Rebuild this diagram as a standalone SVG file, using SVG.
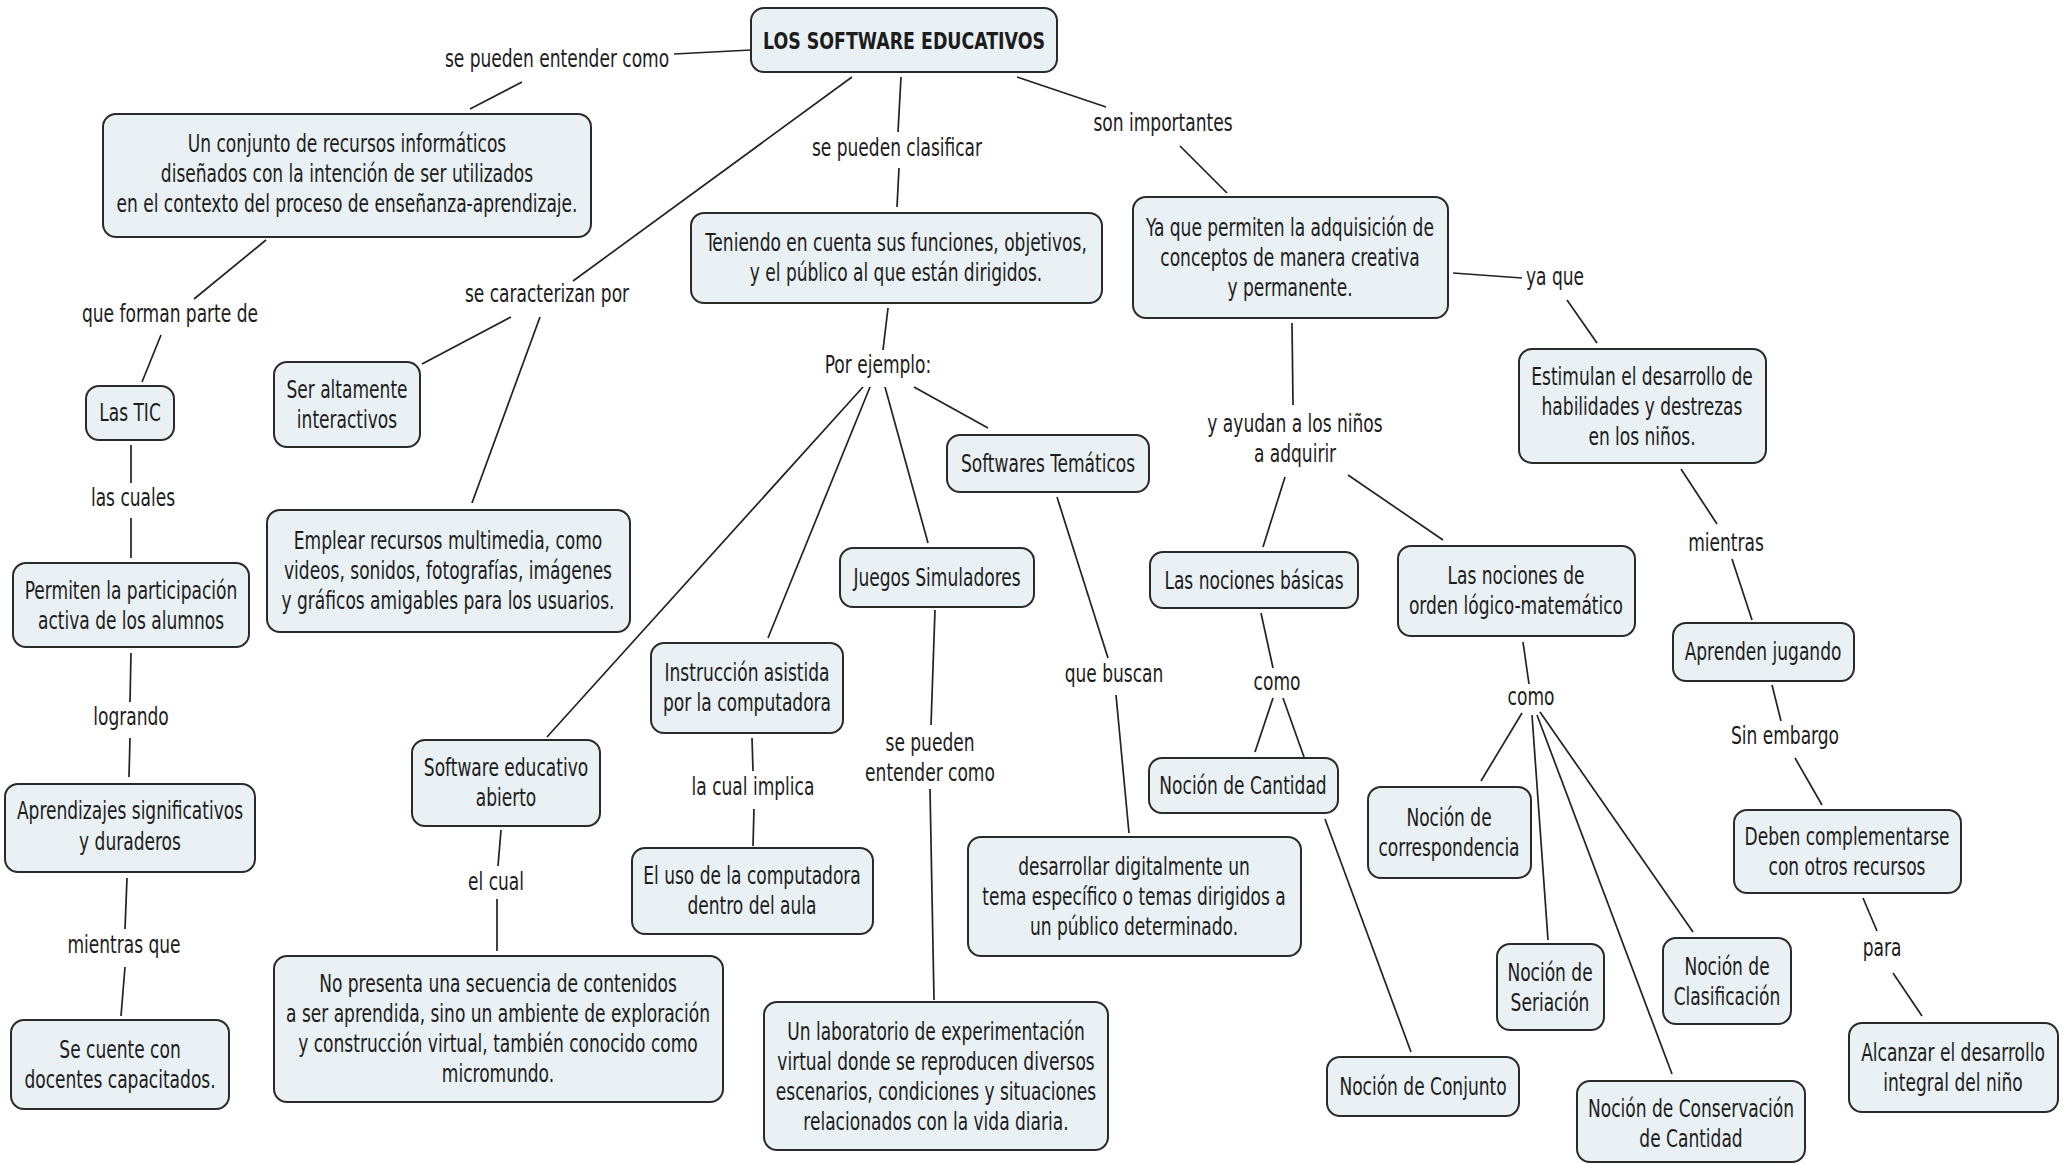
<svg xmlns="http://www.w3.org/2000/svg" width="2063" height="1164" viewBox="0 0 2063 1164">
<style>
.n rect{fill:#eaf1f4;stroke:#2a2a2a;stroke-width:2}
text{font-family:"DejaVu Sans Condensed","DejaVu Sans",sans-serif;font-size:24px;fill:#1c1c1c;text-anchor:middle}
.b{font-weight:bold;font-size:23px}
#connectors line{stroke:#222;stroke-width:1.7}
</style>
<rect width="2063" height="1164" fill="#ffffff"/>
<g id="connectors">
<line x1="751" y1="50" x2="674" y2="54"/>
<line x1="522" y1="82" x2="470" y2="109"/>
<line x1="266" y1="240" x2="194" y2="299"/>
<line x1="161" y1="335" x2="142" y2="382"/>
<line x1="131" y1="445" x2="131" y2="483"/>
<line x1="131" y1="518" x2="131" y2="558"/>
<line x1="131" y1="653" x2="130" y2="702"/>
<line x1="130" y1="738" x2="129" y2="777"/>
<line x1="127" y1="878" x2="125" y2="929"/>
<line x1="125" y1="967" x2="121" y2="1016"/>
<line x1="852" y1="77" x2="573" y2="281"/>
<line x1="511" y1="317" x2="422" y2="364"/>
<line x1="540" y1="317" x2="472" y2="503"/>
<line x1="901" y1="77" x2="898" y2="132"/>
<line x1="899" y1="168" x2="897" y2="207"/>
<line x1="888" y1="308" x2="883" y2="350"/>
<line x1="863" y1="387" x2="547" y2="737"/>
<line x1="870" y1="387" x2="768" y2="638"/>
<line x1="885" y1="387" x2="928" y2="543"/>
<line x1="914" y1="387" x2="988" y2="428"/>
<line x1="1057" y1="497" x2="1108" y2="658"/>
<line x1="1116" y1="695" x2="1129" y2="833"/>
<line x1="935" y1="610" x2="931" y2="725"/>
<line x1="930" y1="789" x2="934" y2="1000"/>
<line x1="752" y1="738" x2="753" y2="771"/>
<line x1="754" y1="809" x2="753" y2="846"/>
<line x1="501" y1="830" x2="498" y2="866"/>
<line x1="497" y1="899" x2="497" y2="951"/>
<line x1="1017" y1="77" x2="1106" y2="107"/>
<line x1="1180" y1="146" x2="1227" y2="193"/>
<line x1="1453" y1="273" x2="1522" y2="278"/>
<line x1="1567" y1="300" x2="1597" y2="343"/>
<line x1="1292" y1="323" x2="1293" y2="405"/>
<line x1="1285" y1="477" x2="1263" y2="547"/>
<line x1="1348" y1="475" x2="1443" y2="540"/>
<line x1="1261" y1="613" x2="1273" y2="668"/>
<line x1="1273" y1="698" x2="1255" y2="752"/>
<line x1="1283" y1="698" x2="1304" y2="757"/>
<line x1="1325" y1="819" x2="1411" y2="1052"/>
<line x1="1523" y1="642" x2="1529" y2="684"/>
<line x1="1522" y1="713" x2="1481" y2="781"/>
<line x1="1532" y1="715" x2="1548" y2="940"/>
<line x1="1537" y1="715" x2="1672" y2="1074"/>
<line x1="1540" y1="712" x2="1693" y2="932"/>
<line x1="1681" y1="469" x2="1717" y2="524"/>
<line x1="1732" y1="559" x2="1752" y2="620"/>
<line x1="1772" y1="685" x2="1781" y2="721"/>
<line x1="1795" y1="758" x2="1822" y2="805"/>
<line x1="1863" y1="898" x2="1877" y2="931"/>
<line x1="1893" y1="973" x2="1922" y2="1016"/>
</g>
<g id="labels">
<text transform="translate(557,67) scale(0.79,1)">se pueden entender como</text>
<text transform="translate(897,156) scale(0.79,1)">se pueden clasificar</text>
<text transform="translate(1163,131) scale(0.79,1)">son importantes</text>
<text transform="translate(170,322) scale(0.79,1)">que forman parte de</text>
<text transform="translate(547,302) scale(0.79,1)">se caracterizan por</text>
<text transform="translate(133,506) scale(0.79,1)">las cuales</text>
<text transform="translate(131,725) scale(0.79,1)">logrando</text>
<text transform="translate(124,953) scale(0.79,1)">mientras que</text>
<text transform="translate(878,373) scale(0.79,1)">Por ejemplo:</text>
<text transform="translate(753,795) scale(0.79,1)">la cual implica</text>
<text transform="translate(496,890) scale(0.79,1)">el cual</text>
<text transform="translate(930,751) scale(0.79,1)"><tspan x="0" y="0">se pueden</tspan><tspan x="0" y="30">entender como</tspan></text>
<text transform="translate(1114,682) scale(0.79,1)">que buscan</text>
<text transform="translate(1555,285) scale(0.79,1)">ya que</text>
<text transform="translate(1295,432) scale(0.79,1)"><tspan x="0" y="0">y ayudan a los niños</tspan><tspan x="0" y="30">a adquirir</tspan></text>
<text transform="translate(1277,690) scale(0.79,1)">como</text>
<text transform="translate(1531,705) scale(0.79,1)">como</text>
<text transform="translate(1726,551) scale(0.79,1)">mientras</text>
<text transform="translate(1785,744) scale(0.79,1)">Sin embargo</text>
<text transform="translate(1882,956) scale(0.79,1)">para</text>
</g>
<g id="n1" class="n"><rect x="751" y="8" width="306" height="64" rx="13"/><text class="b" x="904" y="49" textLength="282" lengthAdjust="spacingAndGlyphs">LOS SOFTWARE EDUCATIVOS</text></g>
<g id="n2" class="n"><rect x="103" y="114" width="488" height="123" rx="13"/><text transform="translate(347,152) scale(0.79,1)"><tspan x="0" y="0">Un conjunto de recursos informáticos</tspan><tspan x="0" y="30">diseñados con la intención de ser utilizados</tspan><tspan x="0" y="60">en el contexto del proceso de enseñanza-aprendizaje.</tspan></text></g>
<g id="n3" class="n"><rect x="86" y="386" width="88" height="54" rx="13"/><text transform="translate(130,421) scale(0.79,1)">Las TIC</text></g>
<g id="n4" class="n"><rect x="13" y="563" width="236" height="84" rx="13"/><text transform="translate(131,599) scale(0.79,1)"><tspan x="0" y="0">Permiten la participación</tspan><tspan x="0" y="30">activa de los alumnos</tspan></text></g>
<g id="n5" class="n"><rect x="5" y="784" width="250" height="88" rx="13"/><text transform="translate(130,819) scale(0.79,1)"><tspan x="0" y="0">Aprendizajes significativos</tspan><tspan x="0" y="31">y duraderos</tspan></text></g>
<g id="n6" class="n"><rect x="11" y="1020" width="218" height="89" rx="13"/><text transform="translate(120,1058) scale(0.79,1)"><tspan x="0" y="0">Se cuente con</tspan><tspan x="0" y="30">docentes capacitados.</tspan></text></g>
<g id="n7" class="n"><rect x="274" y="362" width="146" height="85" rx="13"/><text transform="translate(347,398) scale(0.79,1)"><tspan x="0" y="0">Ser altamente</tspan><tspan x="0" y="30">interactivos</tspan></text></g>
<g id="n8" class="n"><rect x="267" y="510" width="363" height="122" rx="13"/><text transform="translate(448,549) scale(0.79,1)"><tspan x="0" y="0">Emplear recursos multimedia, como</tspan><tspan x="0" y="30">videos, sonidos, fotografías, imágenes</tspan><tspan x="0" y="60">y gráficos amigables para los usuarios.</tspan></text></g>
<g id="n9" class="n"><rect x="691" y="213" width="411" height="90" rx="13"/><text transform="translate(896,251) scale(0.79,1)"><tspan x="0" y="0">Teniendo en cuenta sus funciones, objetivos,</tspan><tspan x="0" y="30">y el público al que están dirigidos.</tspan></text></g>
<g id="n10" class="n"><rect x="947" y="435" width="202" height="57" rx="13"/><text transform="translate(1048,472) scale(0.79,1)">Softwares Temáticos</text></g>
<g id="n11" class="n"><rect x="840" y="548" width="194" height="59" rx="13"/><text transform="translate(937,586) scale(0.79,1)">Juegos Simuladores</text></g>
<g id="n12" class="n"><rect x="651" y="643" width="192" height="90" rx="13"/><text transform="translate(747,681) scale(0.79,1)"><tspan x="0" y="0">Instrucción asistida</tspan><tspan x="0" y="30">por la computadora</tspan></text></g>
<g id="n13" class="n"><rect x="412" y="740" width="188" height="86" rx="13"/><text transform="translate(506,776) scale(0.79,1)"><tspan x="0" y="0">Software educativo</tspan><tspan x="0" y="30">abierto</tspan></text></g>
<g id="n14" class="n"><rect x="632" y="848" width="241" height="86" rx="13"/><text transform="translate(752,884) scale(0.79,1)"><tspan x="0" y="0">El uso de la computadora</tspan><tspan x="0" y="30">dentro del aula</tspan></text></g>
<g id="n15" class="n"><rect x="274" y="956" width="449" height="146" rx="13"/><text transform="translate(498,992) scale(0.79,1)"><tspan x="0" y="0">No presenta una secuencia de contenidos</tspan><tspan x="0" y="30">a ser aprendida, sino un ambiente de exploración</tspan><tspan x="0" y="60">y construcción virtual, también conocido como</tspan><tspan x="0" y="90">micromundo.</tspan></text></g>
<g id="n16" class="n"><rect x="764" y="1002" width="344" height="148" rx="13"/><text transform="translate(936,1040) scale(0.79,1)"><tspan x="0" y="0">Un laboratorio de experimentación</tspan><tspan x="0" y="30">virtual donde se reproducen diversos</tspan><tspan x="0" y="60">escenarios, condiciones y situaciones</tspan><tspan x="0" y="90">relacionados con la vida diaria.</tspan></text></g>
<g id="n17" class="n"><rect x="968" y="837" width="333" height="119" rx="13"/><text transform="translate(1134,875) scale(0.79,1)"><tspan x="0" y="0">desarrollar digitalmente un</tspan><tspan x="0" y="30">tema específico o temas dirigidos a</tspan><tspan x="0" y="60">un público determinado.</tspan></text></g>
<g id="n18" class="n"><rect x="1133" y="197" width="315" height="121" rx="13"/><text transform="translate(1290,236) scale(0.79,1)"><tspan x="0" y="0">Ya que permiten la adquisición de</tspan><tspan x="0" y="30">conceptos de manera creativa</tspan><tspan x="0" y="60">y permanente.</tspan></text></g>
<g id="n19" class="n"><rect x="1519" y="349" width="247" height="114" rx="13"/><text transform="translate(1642,385) scale(0.79,1)"><tspan x="0" y="0">Estimulan el desarrollo de</tspan><tspan x="0" y="30">habilidades y destrezas</tspan><tspan x="0" y="60">en los niños.</tspan></text></g>
<g id="n20" class="n"><rect x="1150" y="552" width="208" height="56" rx="13"/><text transform="translate(1254,589) scale(0.79,1)">Las nociones básicas</text></g>
<g id="n21" class="n"><rect x="1398" y="546" width="237" height="90" rx="13"/><text transform="translate(1516,584) scale(0.79,1)"><tspan x="0" y="0">Las nociones de</tspan><tspan x="0" y="30">orden lógico-matemático</tspan></text></g>
<g id="n22" class="n"><rect x="1149" y="758" width="189" height="55" rx="13"/><text transform="translate(1243,794) scale(0.79,1)">Noción de Cantidad</text></g>
<g id="n23" class="n"><rect x="1368" y="787" width="163" height="91" rx="13"/><text transform="translate(1449,826) scale(0.79,1)"><tspan x="0" y="0">Noción de</tspan><tspan x="0" y="30">correspondencia</tspan></text></g>
<g id="n24" class="n"><rect x="1497" y="944" width="107" height="86" rx="13"/><text transform="translate(1550,981) scale(0.79,1)"><tspan x="0" y="0">Noción de</tspan><tspan x="0" y="30">Seriación</tspan></text></g>
<g id="n25" class="n"><rect x="1663" y="938" width="128" height="86" rx="13"/><text transform="translate(1727,975) scale(0.79,1)"><tspan x="0" y="0">Noción de</tspan><tspan x="0" y="30">Clasificación</tspan></text></g>
<g id="n26" class="n"><rect x="1327" y="1057" width="192" height="59" rx="13"/><text transform="translate(1423,1095) scale(0.79,1)">Noción de Conjunto</text></g>
<g id="n27" class="n"><rect x="1577" y="1081" width="228" height="81" rx="13"/><text transform="translate(1691,1117) scale(0.79,1)"><tspan x="0" y="0">Noción de Conservación</tspan><tspan x="0" y="30">de Cantidad</tspan></text></g>
<g id="n28" class="n"><rect x="1673" y="623" width="181" height="58" rx="13"/><text transform="translate(1763,660) scale(0.79,1)">Aprenden jugando</text></g>
<g id="n29" class="n"><rect x="1734" y="810" width="227" height="83" rx="13"/><text transform="translate(1847,845) scale(0.79,1)"><tspan x="0" y="0">Deben complementarse</tspan><tspan x="0" y="30">con otros recursos</tspan></text></g>
<g id="n30" class="n"><rect x="1849" y="1023" width="209" height="89" rx="13"/><text transform="translate(1953,1061) scale(0.79,1)"><tspan x="0" y="0">Alcanzar el desarrollo</tspan><tspan x="0" y="30">integral del niño</tspan></text></g>
</svg>
